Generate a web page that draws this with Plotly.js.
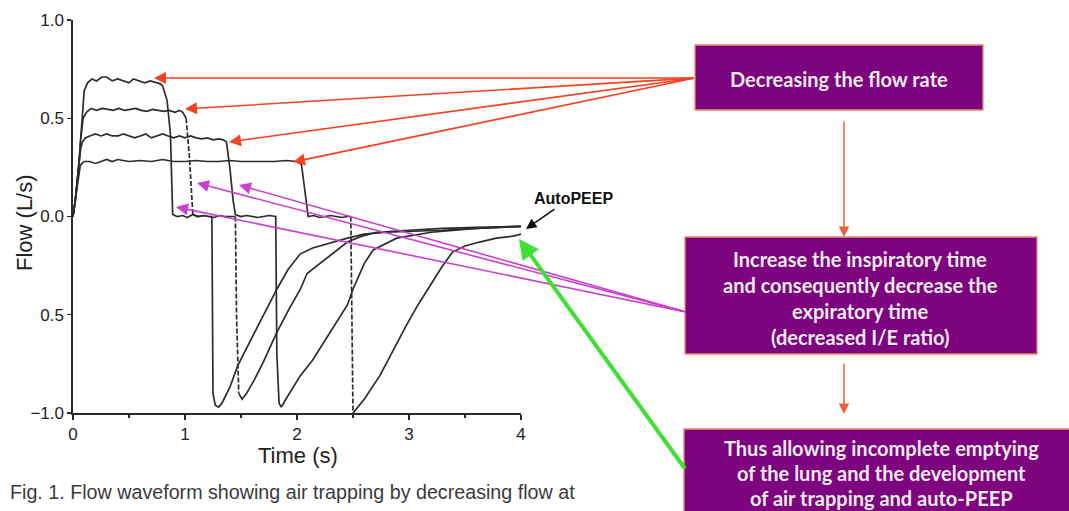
<!DOCTYPE html>
<html>
<head>
<meta charset="utf-8">
<script src="https://cdn.plot.ly/plotly-3.0.1.min.js"></script>
<style>html,body{margin:0;padding:0;background:#fff;}#chart{width:1069px;height:511px;}</style>
</head>
<body>
<div id="chart"></div>
<script>
// ---------------- data ----------------
// Breath 1 : highest inspiratory flow (~0.7 L/s)
const T1 = [0,0.02,0.05,0.08,0.10,0.13,0.17,0.21,0.26,0.30,0.35,0.40,0.45,0.50,0.54,0.59,0.64,0.69,0.74,0.78,0.80,0.84,0.87,0.89,0.93,0.98,1.02,1.07,1.12,1.17,1.21,1.24,1.25,1.27,1.30,1.33,1.40,1.47,1.55,1.63,1.72,1.82,1.92,2.03,2.14,2.32,2.45,2.60,2.80,3.04,3.30,3.60,3.80,4.00];
const F1 = [0,0.08,0.25,0.50,0.64,0.68,0.70,0.69,0.71,0.71,0.69,0.70,0.69,0.68,0.70,0.69,0.68,0.69,0.68,0.675,0.665,0.59,0.42,0.01,0.0,0.005,-0.005,0.01,0.0,0.005,0.0,0.0,-0.90,-0.96,-0.97,-0.95,-0.87,-0.76,-0.67,-0.58,-0.48,-0.37,-0.27,-0.19,-0.16,-0.13,-0.11,-0.09,-0.08,-0.075,-0.07,-0.06,-0.055,-0.05];
// Breath 2 : ~0.55 L/s
const T2 = [0,0.02,0.05,0.07,0.09,0.12,0.16,0.21,0.26,0.31,0.36,0.41,0.46,0.51,0.56,0.61,0.66,0.71,0.76,0.81,0.86,0.91,0.95,0.98,1.01,1.04,1.07,1.11,1.16,1.21,1.26,1.31,1.36,1.41,1.45,1.46,1.48,1.51,1.55,1.62,1.70,1.82,1.93,2.03,2.09,2.20,2.32,2.45,2.58,2.71,3.00,3.30,3.60,4.00];
const F2 = [0,0.08,0.25,0.40,0.50,0.53,0.55,0.54,0.55,0.545,0.54,0.55,0.54,0.545,0.55,0.54,0.535,0.545,0.54,0.535,0.54,0.53,0.54,0.53,0.50,0.30,0.01,0.0,0.005,0.0,-0.005,0.005,0.0,0.0,0.0,-0.50,-0.90,-0.93,-0.90,-0.83,-0.74,-0.59,-0.47,-0.37,-0.29,-0.24,-0.19,-0.13,-0.10,-0.08,-0.07,-0.06,-0.055,-0.05];
// Breath 3 : ~0.4 L/s
const T3 = [0,0.02,0.05,0.07,0.085,0.11,0.15,0.20,0.25,0.30,0.35,0.40,0.45,0.50,0.55,0.60,0.65,0.70,0.75,0.80,0.85,0.90,0.95,1.00,1.05,1.10,1.15,1.20,1.25,1.30,1.34,1.37,1.40,1.43,1.45,1.50,1.55,1.60,1.65,1.70,1.75,1.81,1.82,1.84,1.86,1.90,2.03,2.14,2.32,2.45,2.50,2.60,2.68,2.89,3.20,3.60,4.00];
const F3 = [0,0.08,0.25,0.35,0.38,0.40,0.41,0.42,0.41,0.42,0.41,0.41,0.42,0.41,0.40,0.41,0.42,0.40,0.41,0.42,0.41,0.40,0.41,0.40,0.41,0.40,0.395,0.40,0.39,0.395,0.39,0.38,0.25,0.08,0.01,0.0,0.005,0.0,-0.005,0.0,0.005,0.0,-0.70,-0.95,-0.97,-0.93,-0.81,-0.73,-0.57,-0.45,-0.37,-0.24,-0.17,-0.11,-0.08,-0.06,-0.05];
// Breath 4 : lowest inspiratory flow (~0.28 L/s)
const T4 = [0,0.02,0.05,0.065,0.08,0.10,0.15,0.20,0.25,0.30,0.35,0.40,0.50,0.60,0.70,0.80,0.90,1.00,1.10,1.20,1.30,1.40,1.50,1.60,1.70,1.80,1.90,2.00,2.04,2.07,2.10,2.15,2.20,2.25,2.30,2.35,2.40,2.45,2.48,2.49,2.50,2.60,2.74,2.86,2.98,3.08,3.19,3.29,3.39,3.50,3.63,3.78,3.93,4.00];
const F4 = [0,0.08,0.22,0.26,0.27,0.28,0.28,0.27,0.28,0.29,0.28,0.29,0.28,0.285,0.28,0.29,0.28,0.28,0.285,0.28,0.28,0.285,0.28,0.28,0.28,0.28,0.285,0.28,0.265,0.12,0.0,0.005,-0.005,0.0,0.005,0.0,-0.005,0.0,0.0,-0.60,-1.00,-0.93,-0.81,-0.68,-0.55,-0.45,-0.35,-0.26,-0.18,-0.15,-0.13,-0.11,-0.10,-0.09];

const Y_TICKS = [-1, -0.5, 0, 0.5, 1];
const Y_TICK_TEXT = ['\u22121.0', '0.5', '0.0', '0.5', '1.0'];
const X_TICKS = [0, 1, 2, 3, 4];
const X_TICK_TEXT = ['0', '1', '2', '3', '4'];

const X_TITLE = 'Time (s)';
const Y_TITLE = 'Flow (L/s)';
const CAPTION = 'Fig. 1. Flow waveform showing air trapping by decreasing flow at';
const LABEL_AUTOPEEP = 'AutoPEEP';
const BOX1_LINES = ['Decreasing the flow rate'];
const BOX2_LINES = ['Increase the inspiratory time', 'and consequently decrease the', 'expiratory time', '(decreased I/E ratio)'];
const BOX3_LINES = ['Thus allowing incomplete emptying', 'of the lung and the development', 'of air trapping and auto-PEEP'];

// ---------------- drawing ----------------
const W = 1069, H = 511;
const L = 73, R = 521, TOP = 20, BOT = 413;
const px = x => (x - L) / (R - L);
const py = y => (BOT - y) / (BOT - TOP);
const LINE_COLOR = '#2c2c2c';

const traces = [];
function addBreath(t, f, dashSteep) {
  if (!dashSteep) {
    traces.push({x: t, y: f, mode: 'lines', line: {color: LINE_COLOR, width: 1.7}, hoverinfo: 'skip'});
    return;
  }
  // split the breath into runs: steep (sampled, dashed-looking) vs normal
  let runX = [t[0]], runY = [f[0]], runSteep = null;
  for (let i = 1; i < t.length; i++) {
    const steep = Math.abs((f[i] - f[i-1]) / (t[i] - t[i-1])) > 6;
    if (runSteep === null) runSteep = steep;
    if (steep !== runSteep) {
      traces.push({x: runX, y: runY, mode: 'lines', hoverinfo: 'skip',
        line: {color: LINE_COLOR, width: 1.7, dash: runSteep ? '5px,2px' : 'solid'}});
      runX = [t[i-1]]; runY = [f[i-1]]; runSteep = steep;
    }
    runX.push(t[i]); runY.push(f[i]);
  }
  traces.push({x: runX, y: runY, mode: 'lines', hoverinfo: 'skip',
    line: {color: LINE_COLOR, width: 1.7, dash: runSteep ? '5px,2px' : 'solid'}});
}
addBreath(T1, F1, false);
addBreath(T2, F2, true);
addBreath(T3, F3, false);
addBreath(T4, F4, true);

const annotations = [];
const shapes = [];
function arrow(hx, hy, tx, ty, color, width, size, head) {
  annotations.push({xref: 'paper', yref: 'paper', x: px(hx), y: py(hy), axref: 'pixel', ayref: 'pixel',
    ax: tx - hx, ay: ty - hy, showarrow: true, arrowhead: head, arrowsize: size, arrowwidth: width,
    arrowcolor: color, text: '', standoff: 0, startstandoff: 0});
}
function text(x, y, s, opts) {
  annotations.push(Object.assign({xref: 'paper', yref: 'paper', x: px(x), y: py(y), text: s, showarrow: false,
    xanchor: 'center', yanchor: 'middle'}, opts));
}
function box(x0, y0, x1, y1) {
  shapes.push({type: 'rect', xref: 'paper', yref: 'paper', x0: px(x0), x1: px(x1), y0: py(y1), y1: py(y0),
    fillcolor: '#7e037e', line: {color: '#f2866c', width: 1.3}, layer: 'above'});
}

// red arrows: decreasing flow rate
const RED = '#f5421f';
arrow(154, 78, 695, 78, RED, 1.6, 1.5, 2);
arrow(185, 109, 695, 78, RED, 1.6, 1.5, 2);
arrow(229, 142, 695, 78, RED, 1.6, 1.5, 2);
arrow(293, 162, 695, 78, RED, 1.6, 1.5, 2);
// magenta arrows: pauses
const MAG = '#cc3fcc';
arrow(197, 183, 686, 312, MAG, 1.6, 1.5, 2);
arrow(239, 185, 686, 312, MAG, 1.6, 1.5, 2);
arrow(176, 207, 686, 312, MAG, 1.6, 1.5, 2);
// green arrow to auto-PEEP
arrow(519, 239, 686, 470, '#3ee034', 4, 1.0, 2);
// black AutoPEEP pointer
arrow(526, 229, 556, 208, '#111111', 1.6, 1.3, 2);
// orange vertical flow arrows
arrow(844, 237, 844, 120, '#f0603c', 1.5, 1.4, 2);
arrow(844, 414, 844, 362, '#f0603c', 1.5, 1.4, 2);

box(695, 45, 983, 110);
box(685, 237, 1037, 354);
box(684, 429, 1080, 530);

const boxFont = {family: 'Lato, "Open Sans", sans-serif', size: 20, color: '#ebebeb', weight: 700};
BOX1_LINES.forEach((s, i) => text(839, 79 + i * 26, '<b>' + s + '</b>', {font: boxFont}));
BOX2_LINES.forEach((s, i) => text(860, 259 + i * 26, '<b>' + s + '</b>', {font: boxFont}));
BOX3_LINES.forEach((s, i) => text(881, 448 + i * 25, '<b>' + s + '</b>', {font: boxFont}));

const figFont = 'Liberation Sans, Arial, sans-serif';
text(573, 198, '<b>' + LABEL_AUTOPEEP + '</b>', {font: {family: figFont, size: 16, color: '#111'}});
text(298, 455, X_TITLE, {font: {family: figFont, size: 22, color: '#222'}});
text(24, 223, Y_TITLE, {textangle: -90, font: {family: figFont, size: 22, color: '#222'}});
text(8, 492, CAPTION, {xanchor: 'left', font: {family: figFont, size: 19.7, color: '#3a3a3a'}});

const layout = {
  width: W, height: H,
  margin: {l: L, r: W - R, t: TOP, b: H - BOT, pad: 0},
  paper_bgcolor: '#ffffff', plot_bgcolor: '#ffffff',
  showlegend: false,
  xaxis: {range: [0, 4], tickvals: X_TICKS, ticktext: X_TICK_TEXT, showgrid: false, zeroline: false,
    showline: true, linecolor: '#2a2a2a', linewidth: 1.6, ticks: 'outside', ticklen: 5, tickwidth: 1.4, tickcolor: '#2a2a2a',
    minor: {tickvals: [0.5, 1.5, 2.5, 3.5], ticks: 'outside', ticklen: 3, tickcolor: '#2a2a2a'},
    tickfont: {family: figFont, size: 17, color: '#1e1e1e'}, fixedrange: true},
  yaxis: {range: [-1, 1], tickvals: Y_TICKS, ticktext: Y_TICK_TEXT, showgrid: false, zeroline: false,
    showline: true, linecolor: '#2a2a2a', linewidth: 1.6, ticks: 'outside', ticklen: 4, tickwidth: 1.4, tickcolor: '#2a2a2a',
    tickfont: {family: figFont, size: 17, color: '#1e1e1e'}, fixedrange: true},
  annotations: annotations,
  shapes: shapes
};

Plotly.newPlot('chart', traces, layout, {displayModeBar: false, staticPlot: true});
</script>
</body>
</html>
